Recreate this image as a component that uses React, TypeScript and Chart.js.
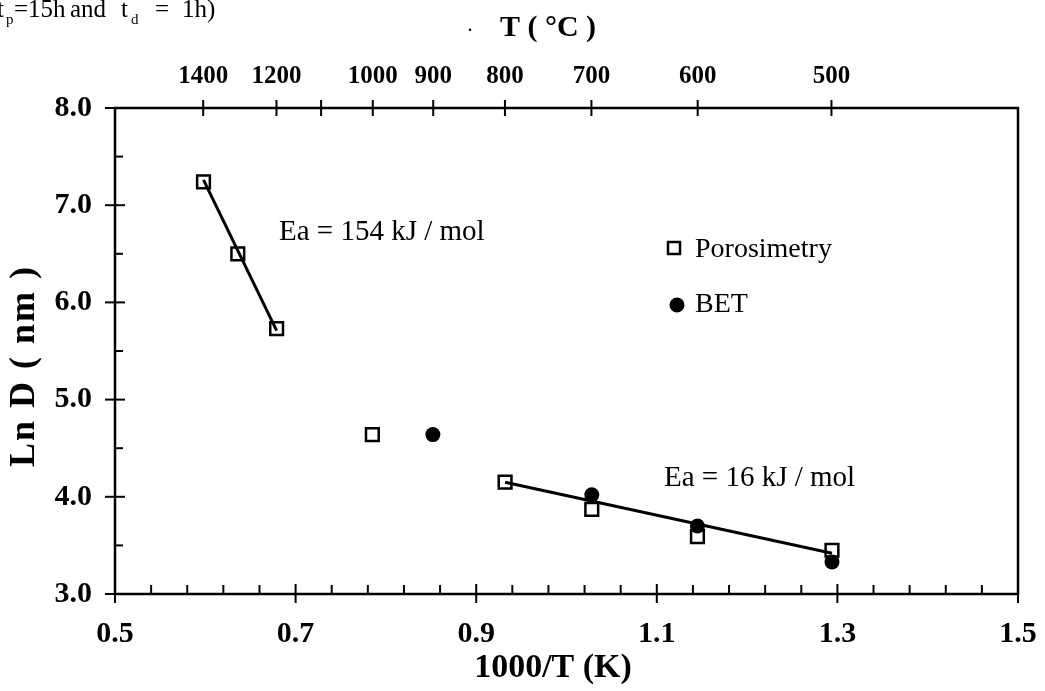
import React, { useEffect, useRef } from "react";
import { Chart, registerables } from "chart.js";
Chart.register(...registerables);

// ---- data ----
const porosimetryX = [0.598, 0.636, 0.679, 0.785, 0.932, 1.028, 1.145, 1.294];
const porosimetryY = [7.24, 6.5, 5.73, 4.64, 4.15, 3.87, 3.59, 3.45];
const betX = [0.852, 1.028, 1.145, 1.294];
const betY = [4.64, 4.02, 3.7, 3.33];
const fitHighX = [0.598, 0.679];
const fitHighY = [7.26, 5.71];
const fitLowX = [0.932, 1.294];
const fitLowY = [4.15, 3.42];

// ---- ticks ----
const bottomTicks = [0.5, 0.7, 0.9, 1.1, 1.3, 1.5];
const leftTicks = [3, 4, 5, 6, 7, 8];
const topTempTicks = [1400, 1200, 1100, 1000, 900, 800, 700, 600, 500];
const topTempLabels = ["1400", "1200", "", "1000", "900", "800", "700", "600", "500"];

const SERIF = "'Liberation Serif', 'Times New Roman', serif";

const toPts = (xs: number[], ys: number[]) => xs.map((x, i) => ({ x, y: ys[i] }));

const noPad = (s: any) => {
  s.paddingLeft = 0;
  s.paddingRight = 0;
  s.paddingTop = 0;
  s.paddingBottom = 0;
};

const overlay = {
  id: "overlay",
  afterDraw(chart: any) {
    const ctx: CanvasRenderingContext2D = chart.ctx;
    const xs = chart.scales.x;
    const ys = chart.scales.y;
    const { left, right, top, bottom } = chart.chartArea;
    ctx.save();
    ctx.strokeStyle = "#000";
    ctx.fillStyle = "#000";
    ctx.lineWidth = 2.5;
    ctx.lineCap = "butt";
    // frame
    ctx.strokeRect(left, top, right - left, bottom - top);
    // bottom ticks
    ctx.lineWidth = 2;
    for (let i = 0; i <= 25; i++) {
      const v = 0.5 + i * 0.04;
      const px = xs.getPixelForValue(v);
      ctx.beginPath();
      if (i % 5 === 0) {
        ctx.moveTo(px, bottom - 10);
        ctx.lineTo(px, bottom + 9);
      } else {
        ctx.moveTo(px, bottom);
        ctx.lineTo(px, bottom - 9);
      }
      ctx.stroke();
    }
    // left ticks
    for (let i = 0; i <= 10; i++) {
      const v = 3 + i * 0.5;
      const py = ys.getPixelForValue(v);
      ctx.beginPath();
      if (i % 2 === 0) {
        ctx.moveTo(left - 10, py);
        ctx.lineTo(left + 10, py);
      } else {
        ctx.moveTo(left, py);
        ctx.lineTo(left + 8, py);
      }
      ctx.stroke();
    }
    // top ticks
    const xt = chart.scales.xTop;
    topTempTicks.forEach((t) => {
      const px = xt.getPixelForValue(1000 / (t + 273.15));
      ctx.beginPath();
      ctx.moveTo(px, top - 8);
      ctx.lineTo(px, top + 8);
      ctx.stroke();
    });

    // axis titles
    ctx.textAlign = "center";
    ctx.textBaseline = "middle";
    ctx.font = `bold 34px ${SERIF}`;
    ctx.fillText("1000/T (K)", 553, 668);
    ctx.save();
    ctx.translate(25, 366);
    ctx.rotate(-Math.PI / 2);
    ctx.font = `bold 36px ${SERIF}`;
    (ctx as any).letterSpacing = "2px";
    ctx.fillText("Ln D ( nm )", 0, 0);
    (ctx as any).letterSpacing = "0px";
    ctx.restore();
    ctx.font = `bold 30px ${SERIF}`;
    ctx.fillText("T ( °C )", 548, 28);
    ctx.font = `20px ${SERIF}`;
    ctx.fillText(".", 470, 26);

    // annotations
    ctx.textAlign = "left";
    ctx.font = `29px ${SERIF}`;
    ctx.fillText("Ea = 154 kJ / mol", 279, 232);
    ctx.fillText("Ea = 16 kJ / mol", 664, 478);

    // legend
    ctx.font = `28px ${SERIF}`;
    ctx.lineWidth = 2.5;
    ctx.strokeRect(668, 242, 12, 12);
    ctx.fillText("Porosimetry", 695, 250);
    ctx.beginPath();
    ctx.arc(677, 305, 7.5, 0, Math.PI * 2);
    ctx.fill();
    ctx.fillText("BET", 695, 305);

    // clipped caption at top-left
    ctx.textBaseline = "alphabetic";
    ctx.font = `25px ${SERIF}`;
    ctx.fillText("t", -3, 17);
    ctx.fillText("=15h", 14, 17);
    ctx.fillText("and", 70, 17);
    ctx.fillText("t", 121, 17);
    ctx.fillText("=", 155, 17);
    ctx.fillText("1h)", 182, 17);
    ctx.font = `15px ${SERIF}`;
    ctx.fillText("p", 6, 24);
    ctx.fillText("d", 131, 24);
    ctx.restore();
  },
};

export default function App() {
  const ref = useRef<HTMLCanvasElement>(null);
  useEffect(() => {
    const canvas = ref.current!;
    const chart = new Chart(canvas, {
      type: "scatter",
      data: {
        datasets: [
          {
            label: "fit154",
            data: toPts(fitHighX, fitHighY),
            showLine: true,
            borderColor: "#000",
            borderWidth: 3,
            pointRadius: 0,
          },
          {
            label: "fit16",
            data: toPts(fitLowX, fitLowY),
            showLine: true,
            borderColor: "#000",
            borderWidth: 3,
            pointRadius: 0,
          },
          {
            label: "Porosimetry",
            data: toPts(porosimetryX, porosimetryY),
            pointStyle: "rect",
            pointRadius: 9,
            borderWidth: 2.5,
            borderColor: "#000",
            backgroundColor: "rgba(0,0,0,0)",
          },
          {
            label: "BET",
            data: toPts(betX, betY),
            pointStyle: "circle",
            pointRadius: 7.5,
            borderWidth: 0,
            borderColor: "#000",
            backgroundColor: "#000",
          },
        ],
      },
      options: {
        responsive: false,
        animation: false,
        events: [],
        layout: { padding: { left: 0, right: 27, top: 0, bottom: 0 } },
        plugins: { legend: { display: false }, tooltip: { enabled: false } },
        scales: {
          x: {
            type: "linear",
            position: "bottom",
            min: 0.5,
            max: 1.5,
            grid: { display: false, drawTicks: false },
            border: { display: false },
            afterBuildTicks: (s: any) => {
              s.ticks = bottomTicks.map((v) => ({ value: v }));
            },
            afterFit: (s: any) => {
              s.height = 97;
              noPad(s);
            },
            ticks: {
              autoSkip: false,
              maxRotation: 0,
              padding: 22,
              color: "#000",
              font: { family: SERIF, size: 30, weight: "bold" },
              callback: (v: any) => Number(v).toFixed(1),
            },
          },
          xTop: {
            type: "linear",
            position: "top",
            min: 0.5,
            max: 1.5,
            grid: { display: false, drawTicks: false },
            border: { display: false },
            afterBuildTicks: (s: any) => {
              s.ticks = topTempTicks.map((t) => ({ value: 1000 / (t + 273.15) }));
            },
            afterFit: (s: any) => {
              s.height = 108;
              noPad(s);
            },
            ticks: {
              autoSkip: false,
              maxRotation: 0,
              padding: 16,
              color: "#000",
              font: { family: SERIF, size: 25, weight: "bold" },
              callback: (_v: any, i: number) => topTempLabels[i],
            },
          },
          y: {
            type: "linear",
            position: "left",
            min: 3,
            max: 8,
            grid: { display: false, drawTicks: false },
            border: { display: false },
            afterBuildTicks: (s: any) => {
              s.ticks = leftTicks.map((v) => ({ value: v }));
            },
            afterFit: (s: any) => {
              s.width = 115;
              noPad(s);
            },
            ticks: {
              autoSkip: false,
              padding: 23,
              color: "#000",
              font: { family: SERIF, size: 30, weight: "bold" },
              callback: (v: any) => Number(v).toFixed(1),
            },
          },
        },
      },
      plugins: [overlay],
    } as any);
    return () => chart.destroy();
  }, []);
  return (
    <div style={{ position: "fixed", left: 0, top: 0, width: 1045, height: 691, background: "#fff" }}>
      <canvas ref={ref} width={1045} height={691} style={{ display: "block", width: 1045, height: 691 }} />
    </div>
  );
}
